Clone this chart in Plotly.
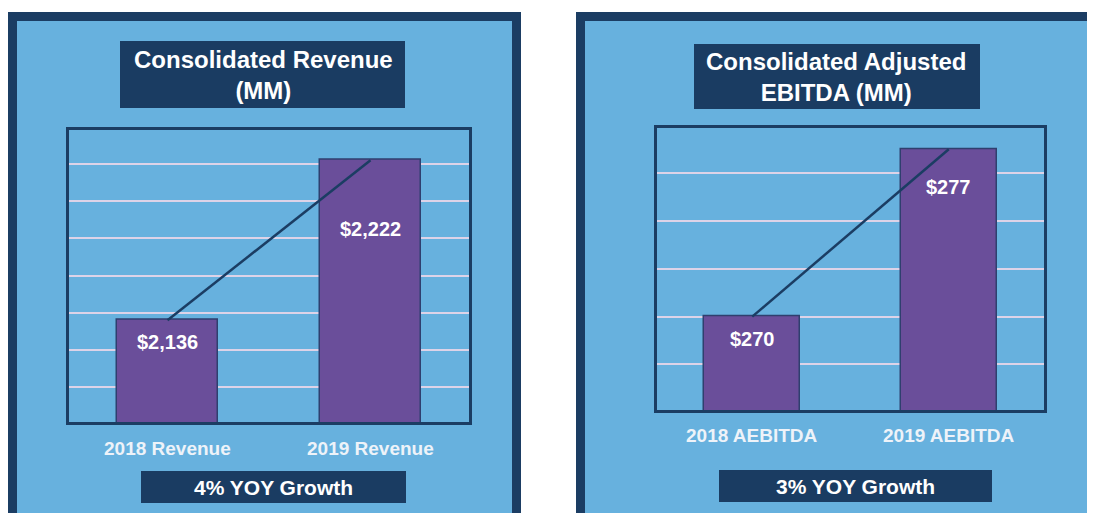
import plotly.graph_objects as go

# ---- data ----
rev_categories = ["2018 Revenue", "2019 Revenue"]
rev_values = [2136, 2222]
ebitda_categories = ["2018 AEBITDA", "2019 AEBITDA"]
ebitda_values = [270, 277]
titles = ["Consolidated Revenue<br>(MM)", "Consolidated Adjusted<br>EBITDA (MM)"]
growth_labels = ["4% YOY Growth", "3% YOY Growth"]

# page has an 8px body margin; figure fills the rest of the window
OFF = 8
W, H = 1095 - OFF, 513 - OFF
def X(px): return (px - OFF) / W
def Y(py): return 1 - (py - OFF) / H

NAVY = "#1b3d63"
PANEL = "#67b1de"
LAV = "#c1afd4"
BAR = "#6a4e9a"
GRID = "#ddd3e8"
FONT = "Liberation Sans, Arial, sans-serif"

fig = go.Figure()

fig.add_trace(go.Bar(x=rev_categories, y=rev_values, width=0.5, marker=dict(color=BAR, line=dict(color="#2f3f6e", width=1.5)),
                     xaxis="x", yaxis="y", showlegend=False, hoverinfo="skip"))
fig.add_trace(go.Scatter(x=rev_categories, y=rev_values, mode="lines", line=dict(color=NAVY, width=2.5),
                         xaxis="x", yaxis="y", showlegend=False, hoverinfo="skip"))
fig.add_trace(go.Bar(x=ebitda_categories, y=ebitda_values, width=0.49, marker=dict(color=BAR, line=dict(color="#2f3f6e", width=1.5)),
                     xaxis="x2", yaxis="y2", showlegend=False, hoverinfo="skip"))
fig.add_trace(go.Scatter(x=ebitda_categories, y=ebitda_values, mode="lines", line=dict(color=NAVY, width=2.5),
                         xaxis="x2", yaxis="y2", showlegend=False, hoverinfo="skip"))

common_y = dict(showgrid=True, gridcolor=GRID, gridwidth=1.5, zeroline=False, showticklabels=False, ticks="", showline=False)
common_x = dict(showticklabels=False, ticks="", showline=False, showgrid=False, zeroline=False, range=[-0.5, 1.5])

fig.update_layout(
    width=W, height=H, autosize=False,
    margin=dict(l=0, r=0, t=0, b=0),
    paper_bgcolor="white", plot_bgcolor=LAV,
    bargap=0,
    xaxis=dict(domain=[X(66), X(472)], anchor="y", **common_x),
    yaxis=dict(domain=[Y(424.3), Y(126.8)], anchor="x", range=[2080, 2240], dtick=20, tick0=2080, **common_y),
    xaxis2=dict(domain=[X(654), X(1047)], anchor="y2", **common_x),
    yaxis2=dict(domain=[Y(412.3), Y(125.3)], anchor="x2", range=[266, 278], dtick=2, tick0=266, **common_y),
)

shapes = []
shapes.append(dict(type="rect", xref="paper", yref="paper", x0=X(12.5), x1=X(516.5), y0=Y(560), y1=Y(16.5),
                   fillcolor=PANEL, line=dict(color=NAVY, width=9), layer="below"))
shapes.append(dict(type="rect", xref="paper", yref="paper", x0=X(580.5), x1=X(1130), y0=Y(560), y1=Y(16.5),
                   fillcolor=PANEL, line=dict(color=NAVY, width=9), layer="below"))
shapes.append(dict(type="rect", xref="paper", yref="paper", x0=X(120), x1=X(405), y0=Y(108), y1=Y(41),
                   fillcolor="#1a3c62", line=dict(width=0), layer="below"))
shapes.append(dict(type="rect", xref="paper", yref="paper", x0=X(694), x1=X(980), y0=Y(109), y1=Y(44),
                   fillcolor="#1a3c62", line=dict(width=0), layer="below"))
shapes.append(dict(type="rect", xref="paper", yref="paper", x0=X(141), x1=X(406), y0=Y(503), y1=Y(471),
                   fillcolor="#1a3c62", line=dict(width=0), layer="below"))
shapes.append(dict(type="rect", xref="paper", yref="paper", x0=X(719), x1=X(992), y0=Y(502), y1=Y(470),
                   fillcolor="#1a3c62", line=dict(width=0), layer="below"))
shapes.append(dict(type="rect", xref="paper", yref="paper", x0=X(67.5), x1=X(470.5), y0=Y(423.5), y1=Y(128.5),
                   line=dict(color=NAVY, width=3), layer="above"))
shapes.append(dict(type="rect", xref="paper", yref="paper", x0=X(655.5), x1=X(1045.5), y0=Y(411.5), y1=Y(126.5),
                   line=dict(color=NAVY, width=3), layer="above"))
fig.update_layout(shapes=shapes)

ann = []
white_bold = lambda s: dict(family=FONT, size=s, color="white", weight="bold")
ann.append(dict(text=titles[0], xref="paper", yref="paper", x=X(263), y=Y(74.5), showarrow=False,
                font=white_bold(24), xanchor="center", yanchor="middle", align="center"))
ann.append(dict(text=titles[1], xref="paper", yref="paper", x=X(836), y=Y(76.5), showarrow=False,
                font=white_bold(24), xanchor="center", yanchor="middle", align="center"))
ann.append(dict(text=growth_labels[0], xref="paper", yref="paper", x=X(273), y=Y(487), showarrow=False,
                font=white_bold(21), xanchor="center", yanchor="middle"))
ann.append(dict(text=growth_labels[1], xref="paper", yref="paper", x=X(855), y=Y(486.5), showarrow=False,
                font=white_bold(21), xanchor="center", yanchor="middle"))
for c in rev_categories:
    ann.append(dict(text=c, xref="x", yref="paper", x=c, y=Y(448), showarrow=False,
                    font=dict(family=FONT, size=19, color="#eef3f9", weight="bold"), yanchor="middle"))
for c in ebitda_categories:
    ann.append(dict(text=c, xref="x2", yref="paper", x=c, y=Y(435), showarrow=False,
                    font=dict(family=FONT, size=19, color="#eef3f9", weight="bold"), yanchor="middle"))
rev_shift = [-22, -69]
eb_shift = [-22, -38]
for c, v, s in zip(rev_categories, rev_values, rev_shift):
    ann.append(dict(text=f"${v:,}", xref="x", yref="y", x=c, y=v, yshift=s, showarrow=False,
                    font=white_bold(20), yanchor="middle"))
for c, v, s in zip(ebitda_categories, ebitda_values, eb_shift):
    ann.append(dict(text=f"${v:,}", xref="x2", yref="y2", x=c, y=v, yshift=s, showarrow=False,
                    font=white_bold(20), yanchor="middle"))
fig.update_layout(annotations=ann)

fig.write_html("out.html")
